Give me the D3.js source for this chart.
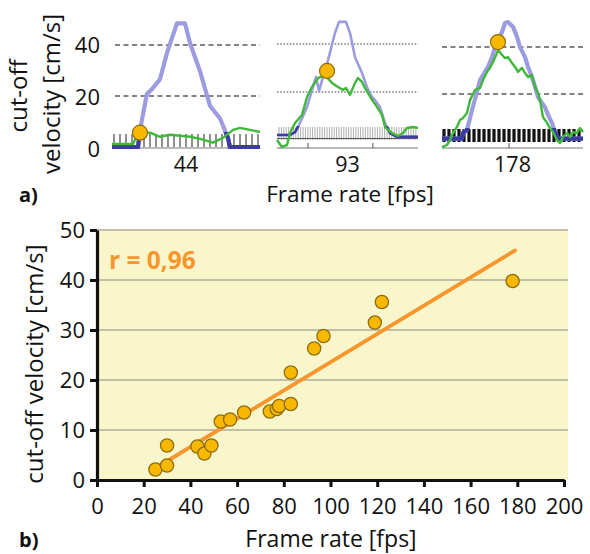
<!DOCTYPE html>
<html><head><meta charset="utf-8">
<script src="https://cdn.jsdelivr.net/npm/d3@7"></script>
<style>
body{margin:0;background:#fff;}
svg{display:block;font-family:"Open Sans","Noto Sans",sans-serif;}
</style></head>
<body>
<svg id="c" width="590" height="554"></svg>
<script>
// ---------- Panel a) data ----------
const panelLabels = ["44", "93", "178"];
const panelTicks = [0, 20, 40];
// positions along the profile (0..100), velocities in cm/s
const p1BlueX = [0, 17.6, 18.9, 23.6, 27, 32.4, 37.2, 43.9, 49.3, 52.7, 59.5, 66.2, 73, 78.4, 79.7, 100];
const p1BlueV = [0, 0, 6.5, 20.8, 22.7, 26.5, 37, 48.5, 48.5, 40.8, 29.6, 16.2, 11.2, 3.5, 0, 0];
const p1GreenX = [0, 14.2, 17.6, 25.7, 32.4, 39.2, 45.9, 52.7, 59.5, 68.2, 75, 81.8, 86.5, 93.2, 100];
const p1GreenV = [1.2, 1.2, 5.6, 5.6, 4, 4.8, 4.4, 4, 3.2, 1.7, 3.6, 6.7, 7.5, 6.7, 5.9];
const p1Dot = [18.9, 5.6];

const p2BlueX = [0, 9.2, 12.8, 16.3, 21.3, 25.5, 27.7, 29.8, 32.6, 36.2, 41.1, 44, 48.9, 51.8, 55.3, 60.3, 63.8, 67.4, 69.5, 73, 76.6, 80.1, 85.1, 92.2, 100];
const p2BlueV = [2.1, 2.1, 3.3, 7.1, 13.8, 22.1, 26.3, 20.4, 26.3, 33.3, 44.6, 49.2, 49.2, 44.6, 34.6, 27.9, 22.1, 17.9, 16.7, 13.8, 7.1, 2.9, 1.3, 1.3, 1.3];
const p2GreenX = [0, 3.5, 7.1, 9.2, 12.8, 17.7, 21.3, 24.8, 29.1, 34, 39, 43.3, 46.8, 48.9, 51.8, 55.3, 57.4, 60.3, 62.4, 67.4, 70.9, 74.5, 76.6, 81.6, 85.8, 89.4, 92.2, 96.5, 100];
const p2GreenV = [0, -2.9, -2.1, 2.9, 7.1, 10.4, 17.9, 22.1, 25.8, 27.1, 23.8, 22.1, 20.8, 21.7, 18.8, 23.8, 25.8, 24.2, 21.7, 16.7, 13.8, 10.4, 5.4, 2.9, 1.7, 2.9, 5, 5.4, 5];
const p2Dot = [35.5, 28.8];

const p3BlueX = [0, 14, 14.9, 17.7, 21.3, 24.8, 27, 29.1, 32.6, 35.5, 37.6, 39.7, 42.6, 44.7, 46.8, 50.4, 53.2, 55.3, 58.9, 61, 63.8, 66, 68.1, 70.9, 73, 75.2, 78, 80.1, 82.3, 100];
const p3BlueV = [1, 1, 3.4, 4.7, 13.2, 20.9, 26, 28.1, 31.5, 35.7, 40, 43, 46.4, 50.2, 50.6, 48.5, 44.3, 40, 35.7, 31.5, 27.2, 23, 18.7, 16.2, 14.5, 11.1, 7.7, 3.8, 1, 1];
const p3GreenX = [0, 3.5, 5.7, 7.8, 10.6, 12.8, 14.9, 17.7, 19.9, 23.4, 27, 29.1, 31.9, 34, 36.2, 39, 39.7, 42.6, 44.7, 46.8, 49.6, 51.8, 53.9, 56.7, 58.9, 61, 63.8, 66, 68.1, 69.5, 71.6, 74.5, 76.6, 78.7, 81.6, 83.7, 85.8, 88.7, 90.8, 92.9, 95.7, 97.9, 100];
const p3GreenV = [-2.6, -1.7, 0.4, 3.4, 6, 8.9, 9.8, 11.9, 17.4, 21.7, 22.6, 26, 29.4, 31.1, 33.6, 37.4, 38.7, 36.6, 35.3, 35.7, 33.2, 31.5, 29.4, 31.1, 28.9, 27.2, 28.1, 23, 20.4, 17.4, 10.2, 7.7, 5.5, 3.8, 0.4, -0.9, 1.7, 3.4, 1.7, 3.8, 3.4, 5.5, 3.8];
const p3Dot = [39.7, 42.1];

// ---------- Panel b) data ----------
const frameRate = [25, 30, 30, 43, 46, 49, 53, 57, 63, 74, 77, 78, 83, 83, 93, 97, 119, 122, 178];
const cutoffVel = [2.1, 2.9, 6.9, 6.7, 5.3, 6.9, 11.7, 12.1, 13.5, 13.7, 14.2, 14.8, 15.2, 21.5, 26.3, 28.8, 31.5, 35.6, 39.8];
const trendFps = [25.5, 179];
const trendVel = [2.5, 45.9];
const xTicks = [0, 20, 40, 60, 80, 100, 120, 140, 160, 180, 200];
const yTicks = [0, 10, 20, 30, 40, 50];
const rLabel = "r = 0,96";

const svg = d3.select("#c");
const zip = (xs, ys) => xs.map((x, i) => [x, ys[i]]);
const defs = svg.append("defs");

// ---------- Panel a) ----------
const panels = [
  {x0: 112, x1: 260, g0: 115, y0: 147, y40: 45, axisY: 148, comb: {top: 134, bot: 147, step: 6, w: 1.3, col: "#555"}, blueW: 4.2,
   blue: zip(p1BlueX, p1BlueV), green: zip(p1GreenX, p1GreenV), dot: p1Dot, dash: "5,3.5", axTicks: [], clip: [132, 151]},
  {x0: 277, x1: 418, g0: 277, y0: 140, y40: 44, axisY: 148, comb: {top: 127, bot: 140, step: 2.4, w: 0.8, col: "#9a9a9a"}, blueW: 2.6,
   blue: zip(p2BlueX, p2BlueV), green: zip(p2GreenX, p2GreenV), dot: p2Dot, dash: "1.6,1.6", axTicks: [22, 68], clip: [126, 142]},
  {x0: 442, x1: 583, g0: 442, y0: 141, y40: 47, axisY: 148, comb: {top: 129, bot: 142, step: 5, w: 3.2, col: "#111"}, blueW: 4.2,
   blue: zip(p3BlueX, p3BlueV), green: zip(p3GreenX, p3GreenV), dot: p3Dot, dash: "5,3.5", axTicks: [47.5], clip: [128, 144]}
];

panels.forEach((p, i) => {
  const g = svg.append("g");
  const xs = d3.scaleLinear([0, 100], [p.x0, p.x1]);
  const ys = d3.scaleLinear([0, 40], [p.y0, p.y40]);
  g.selectAll("line.grid").data([20, 40]).join("line")
    .attr("x1", p.g0).attr("x2", p.x1)
    .attr("y1", d => ys(d)).attr("y2", d => ys(d))
    .attr("stroke", "#848484").attr("stroke-width", i === 1 ? 1.6 : 2)
    .attr("stroke-dasharray", p.dash);
  g.append("line").attr("x1", p.x0).attr("x2", p.x1).attr("y1", p.axisY).attr("y2", p.axisY)
    .attr("stroke", "#777").attr("stroke-width", 1.2);
  g.selectAll("line.at").data(p.axTicks).join("line")
    .attr("x1", d => xs(d)).attr("x2", d => xs(d)).attr("y1", p.axisY).attr("y2", p.axisY - 5)
    .attr("stroke", "#555").attr("stroke-width", 1);
  const combX = d3.range(p.x0 + 2, p.x1, p.comb.step);
  g.selectAll("line.comb").data(combX).join("line")
    .attr("x1", d => d).attr("x2", d => d).attr("y1", p.comb.top).attr("y2", p.comb.bot)
    .attr("stroke", p.comb.col).attr("stroke-width", p.comb.w);
  if (i === 1) {
    g.append("line").attr("x1", p.x0).attr("x2", p.x1).attr("y1", 138.5).attr("y2", 138.5)
      .attr("stroke", "#555").attr("stroke-width", 1);
  }
  const line = d3.line().x(d => xs(d[0])).y(d => ys(d[1]));
  g.append("path").attr("d", line(p.blue)).attr("fill", "none")
    .attr("stroke", "#9c9ce0").attr("stroke-width", p.blueW).attr("stroke-linejoin", "round");
  const cid = "band" + i;
  defs.append("clipPath").attr("id", cid).append("rect")
    .attr("x", p.x0 - 2).attr("y", p.clip[0]).attr("width", p.x1 - p.x0 + 4).attr("height", p.clip[1] - p.clip[0]);
  g.append("path").attr("d", line(p.blue)).attr("fill", "none").attr("clip-path", `url(#${cid})`)
    .attr("stroke", "#3b3ba6").attr("stroke-width", p.blueW).attr("stroke-linejoin", "round");
  g.append("path").attr("d", line(p.green)).attr("fill", "none")
    .attr("stroke", "#3fb83a").attr("stroke-width", 2.4).attr("stroke-linejoin", "round");
  g.append("circle").attr("cx", xs(p.dot[0])).attr("cy", ys(p.dot[1])).attr("r", 7.5)
    .attr("fill", "#f9b800").attr("stroke", "#8d6d10").attr("stroke-width", 1.2);
  g.append("text").attr("x", (p.x0 + p.x1) / 2).attr("y", 172).attr("text-anchor", "middle")
    .attr("font-size", 21.5).attr("fill", "#111").text(panelLabels[i]);
});
const yTop = d3.scaleLinear([0, 40], [149, 45]);
svg.append("g").selectAll("text").data(panelTicks).join("text")
  .attr("x", 100).attr("y", d => yTop(d) + 8).attr("text-anchor", "end")
  .attr("font-size", 22).attr("fill", "#111").text(d => d);
svg.append("text").attr("transform", "translate(27,96) rotate(-90)").attr("text-anchor", "middle")
  .attr("font-size", 24).attr("fill", "#111").text("cut-off");
svg.append("text").attr("transform", "translate(60,94) rotate(-90)").attr("text-anchor", "middle")
  .attr("font-size", 24).attr("fill", "#111").text("velocity [cm/s]");
svg.append("text").attr("x", 350).attr("y", 201.5).attr("text-anchor", "middle")
  .attr("font-size", 22.5).attr("fill", "#111").text("Frame rate [fps]");
svg.append("text").attr("x", 19).attr("y", 202).attr("font-size", 20).attr("font-weight", "bold")
  .attr("fill", "#111").text("a)");

// ---------- Panel b) ----------
const x = d3.scaleLinear([0, 200], [97, 564]);
const y = d3.scaleLinear([0, 50], [480, 230]);
const gb = svg.append("g");
gb.append("rect").attr("x", x(0)).attr("y", y(50)).attr("width", x(200) - x(0) + 4).attr("height", y(0) - y(50))
  .attr("fill", "#faf6cb");
gb.selectAll("line.grid").data(yTicks.slice(1)).join("line")
  .attr("x1", x(0)).attr("x2", x(200) + 4).attr("y1", d => y(d)).attr("y2", d => y(d))
  .attr("stroke", "#b0ad98").attr("stroke-width", 1.6);

const ax = gb.append("g").attr("transform", `translate(0,${y(0)})`)
  .call(d3.axisBottom(x).tickValues(xTicks).tickSize(7).tickSizeOuter(0).tickPadding(11));
const ay = gb.append("g").attr("transform", `translate(${x(0)},0)`)
  .call(d3.axisLeft(y).tickValues(yTicks).tickSize(7).tickSizeOuter(0).tickPadding(5));
[ax, ay].forEach(a => {
  a.select(".domain").attr("stroke", "#111").attr("stroke-width", 3.2);
  a.selectAll(".tick line").attr("stroke", "#111").attr("stroke-width", 3);
  a.selectAll(".tick text").attr("font-size", 22).attr("fill", "#111")
    .attr("font-family", "'Open Sans','Noto Sans',sans-serif");
});

gb.append("path").attr("d", d3.line().x(d => x(d[0])).y(d => y(d[1]))(zip(trendFps, trendVel)))
  .attr("stroke", "#f7962c").attr("stroke-width", 3.8).attr("fill", "none").attr("stroke-linecap", "round");

gb.selectAll("circle").data(zip(frameRate, cutoffVel)).join("circle")
  .attr("cx", d => x(d[0])).attr("cy", d => y(d[1])).attr("r", 6.6)
  .attr("fill", "#f9b800").attr("stroke", "#8d6d10").attr("stroke-width", 1.3);

gb.append("text").attr("x", 109).attr("y", 269).attr("font-size", 24.5).attr("font-weight", "bold")
  .attr("fill", "#f7962c").text(rLabel);

svg.append("text").attr("transform", "translate(43,364) rotate(-90)").attr("text-anchor", "middle")
  .attr("font-size", 24).attr("fill", "#111").text("cut-off velocity [cm/s]");
svg.append("text").attr("x", 331).attr("y", 547).attr("text-anchor", "middle")
  .attr("font-size", 23).attr("fill", "#111").text("Frame rate [fps]");
svg.append("text").attr("x", 19).attr("y", 547).attr("font-size", 20).attr("font-weight", "bold")
  .attr("fill", "#111").text("b)");
</script>
</body></html>
